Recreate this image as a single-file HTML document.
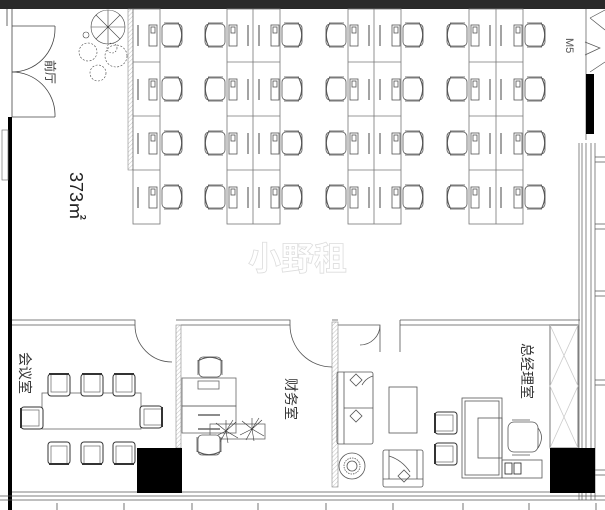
<!DOCTYPE html>
<html><head><meta charset="utf-8"><style>
html,body{margin:0;padding:0;background:#fff;}
svg{display:block;}
text{font-family:"Liberation Sans","Noto Sans CJK SC",sans-serif;}
</style></head><body>
<svg width="605" height="510" viewBox="0 0 605 510" xmlns="http://www.w3.org/2000/svg">
<defs>
<pattern id="h" width="3" height="3" patternUnits="userSpaceOnUse" patternTransform="rotate(45)"><line x1="0" y1="0" x2="0" y2="3" stroke="#999" stroke-width="0.6"/></pattern>
<!-- chair with back on right -->
<g id="cR" fill="none" stroke="#555" stroke-width="0.8">
<rect x="2" y="2" width="20" height="22" rx="4" fill="#fff"/>
<path d="M18 1 Q26 13 18 25"/>
<line x1="4" y1="1" x2="19" y2="1"/><line x1="4" y1="25" x2="19" y2="25"/>
<path d="M19 3 Q24 13 19 23"/>
</g>
<g id="cL"><use href="#cR" transform="translate(26,0) scale(-1,1)"/></g>
<g id="mon" fill="#fff" stroke="#555" stroke-width="0.8"><rect x="0" y="0" width="8" height="21"/><rect x="2" y="2" width="4" height="6"/></g>
<g id="mc" fill="#fff" stroke="#333" stroke-width="1"><rect x="1" y="2" width="22" height="22" rx="3"/><rect x="4" y="2" width="16" height="18" stroke="#666" stroke-width="0.7"/><line x1="2" y1="2" x2="22" y2="2" stroke-width="2"/></g>
</defs>
<rect width="605" height="510" fill="#fff"/>
<rect x="0" y="0" width="605" height="9" fill="#2a2a2a"/>

<!-- left wall / entrance -->
<rect x="8" y="117" width="4" height="393" fill="#000"/>
<rect x="2" y="130" width="6" height="50" fill="none" stroke="#777" stroke-width="0.7"/>
<g fill="none" stroke="#444" stroke-width="0.8">
<line x1="12" y1="9" x2="12" y2="117"/>
<line x1="7" y1="9" x2="7" y2="26"/>
<line x1="12" y1="26" x2="55" y2="26"/><line x1="12" y1="117" x2="55" y2="117"/>
<line x1="55" y1="26" x2="55" y2="29"/><line x1="55" y1="114" x2="55" y2="117"/>
<path d="M55 29 A43 43 0 0 1 12 72"/><path d="M55 114 A43 43 0 0 0 12 72"/>
</g>
<text x="0" y="0" font-size="12" fill="#333" transform="translate(46,60) rotate(90)">前厅</text>
<text x="0" y="0" font-size="18" fill="#222" transform="translate(70,172) rotate(90)">373㎡</text>

<!-- plants -->
<g fill="none" stroke="#444" stroke-width="0.6">
<circle cx="108" cy="27" r="17"/>
<path d="M108 27 L108 10 M108 27 L120 15 M108 27 L125 27 M108 27 L120 39 M108 27 L108 44 M108 27 L96 39 M108 27 L91 27 M108 27 L96 15"/>
<circle cx="86" cy="35" r="3"/>
<circle cx="88" cy="52" r="9" stroke-dasharray="2 1.5"/>
<circle cx="116" cy="56" r="11" stroke-dasharray="2 1.5"/>
<circle cx="98" cy="73" r="8" stroke-dasharray="2 1.5"/>
<circle cx="112" cy="48" r="5" stroke-dasharray="1.5 1.5"/>
</g>
<rect x="128" y="9" width="5" height="161" fill="url(#h)" stroke="#888" stroke-width="0.6"/>

<!-- desk grid -->
<g fill="none" stroke="#777" stroke-width="0.8">
<rect x="133" y="9" width="27" height="215"/>
<line x1="133" y1="62" x2="160" y2="62"/><line x1="133" y1="116" x2="160" y2="116"/><line x1="133" y1="170" x2="160" y2="170"/>
<rect x="227" y="9" width="53" height="215"/><line x1="253" y1="9" x2="253" y2="224"/>
<line x1="227" y1="62" x2="280" y2="62"/><line x1="227" y1="116" x2="280" y2="116"/><line x1="227" y1="170" x2="280" y2="170"/>
<rect x="348" y="9" width="53" height="215"/><line x1="374" y1="9" x2="374" y2="224"/>
<line x1="348" y1="62" x2="401" y2="62"/><line x1="348" y1="116" x2="401" y2="116"/><line x1="348" y1="170" x2="401" y2="170"/>
<rect x="469" y="9" width="54" height="215"/><line x1="496" y1="9" x2="496" y2="224"/>
<line x1="469" y1="62" x2="523" y2="62"/><line x1="469" y1="116" x2="523" y2="116"/><line x1="469" y1="170" x2="523" y2="170"/>
</g>
<g id="row">
<use href="#mon" x="149" y="25"/><line x1="138" y1="25" x2="138" y2="46" stroke="#666" stroke-width="1.2"/>
<use href="#cR" x="160" y="22"/>
<use href="#cL" x="201" y="22"/><use href="#mon" x="229" y="25"/><line x1="248" y1="25" x2="248" y2="46" stroke="#666" stroke-width="1.2"/>
<line x1="259" y1="25" x2="259" y2="46" stroke="#666" stroke-width="1.2"/><use href="#mon" x="271" y="25"/><use href="#cR" x="280" y="22"/>
<use href="#cL" x="322" y="22"/><use href="#mon" x="350" y="25"/><line x1="369" y1="25" x2="369" y2="46" stroke="#666" stroke-width="1.2"/>
<line x1="380" y1="25" x2="380" y2="46" stroke="#666" stroke-width="1.2"/><use href="#mon" x="392" y="25"/><use href="#cR" x="401" y="22"/>
<use href="#cL" x="443" y="22"/><use href="#mon" x="471" y="25"/><line x1="490" y1="25" x2="490" y2="46" stroke="#666" stroke-width="1.2"/>
<line x1="501" y1="25" x2="501" y2="46" stroke="#666" stroke-width="1.2"/><use href="#mon" x="514" y="25"/><use href="#cR" x="523" y="22"/>
</g>
<use href="#row" y="54"/><use href="#row" y="108"/><use href="#row" y="162"/>

<!-- right side -->
<g fill="none" stroke="#555" stroke-width="0.7">
<line x1="586" y1="9" x2="586" y2="140"/>
<path d="M590 18 L605 10 M590 18 L605 30 M585 42 L600 48 L585 55 M590 72 L605 62"/>
<line x1="579" y1="143" x2="579" y2="500"/><line x1="582" y1="143" x2="582" y2="500"/>
<line x1="586" y1="143" x2="586" y2="500"/><line x1="591" y1="143" x2="591" y2="500"/>
<line x1="595" y1="143" x2="595" y2="500"/>
<path d="M595 157 H605 M595 162 H605 M595 224 H605 M595 229 H605 M595 291 H605 M595 296 H605 M595 380 H605 M595 385 H605 M595 470 H605 M595 475 H605"/>
</g>
<rect x="586" y="74" width="8" height="60" fill="#000"/>
<text x="0" y="0" font-size="11" fill="#555" transform="translate(566,38) rotate(90)">M5</text>

<!-- watermark -->
<text x="248" y="270" font-size="33" font-weight="bold" fill="#fff" stroke="#ddd" stroke-width="0.8" font-family="Liberation Sans,Noto Sans CJK SC,sans-serif">小野租</text>

<!-- bottom rooms walls -->
<g fill="none" stroke="#555" stroke-width="0.8">
<path d="M12 320 H135 V325 H12"/>
<path d="M135 325 A37 37 0 0 0 172 362"/>
<path d="M176 320 H290 V325 H181"/>
<path d="M290 325 A42 42 0 0 0 332 367"/>
<path d="M332 320 H338 M338 325 H380 V352 M380 325 A20 20 0 0 1 360 345"/>
<path d="M400 320 H580 M400 325 H578 M400 320 V352"/>
<line x1="12" y1="492" x2="580" y2="492"/>
<line x1="0" y1="496" x2="605" y2="496"/><line x1="0" y1="500" x2="605" y2="500"/>
<path d="M57 503 V510 M124 503 V510 M192 503 V510 M258 503 V510 M326 503 V510 M393 503 V510 M463 503 V510 M529 503 V510 M596 503 V510"/>
<rect x="550" y="325" width="28" height="123"/>
<path d="M550 325 L578 386 L550 448 M578 325 L550 386 L578 448" stroke="#ccc"/>
</g>
<rect x="176" y="325" width="5" height="123" fill="url(#h)" stroke="#888" stroke-width="0.6"/>
<rect x="332" y="322" width="6" height="165" fill="url(#h)" stroke="#888" stroke-width="0.6"/>
<rect x="137" y="448" width="45" height="45" fill="#000"/>
<rect x="550" y="448" width="45" height="45" fill="#000"/>

<!-- meeting room -->
<text x="0" y="0" font-size="14" fill="#333" transform="translate(20,352) rotate(90)">会议室</text>
<rect x="42" y="393" width="99" height="36" fill="none" stroke="#666" stroke-width="0.8"/>
<use href="#mc" x="47" y="372"/><use href="#mc" x="80" y="372"/><use href="#mc" x="112" y="372"/>
<use href="#mc" transform="translate(47,466) scale(1,-1)"/><use href="#mc" transform="translate(80,466) scale(1,-1)"/><use href="#mc" transform="translate(112,466) scale(1,-1)"/>
<use href="#mc" transform="translate(19,430) rotate(-90)"/><use href="#mc" transform="translate(164,405) rotate(90)"/>

<!-- finance -->
<text x="0" y="0" font-size="14" fill="#333" transform="translate(286,378) rotate(90)">财务室</text>
<use href="#cR" transform="translate(197,379) rotate(-90)"/>
<g fill="none" stroke="#666" stroke-width="0.8">
<rect x="182" y="378" width="54" height="28"/><rect x="182" y="406" width="54" height="27"/>
<rect x="198" y="381" width="21" height="8"/>
<line x1="198" y1="415" x2="220" y2="415" stroke-width="1.4"/><line x1="198" y1="429" x2="220" y2="429" stroke-width="1.4"/>
<rect x="210" y="424" width="55" height="15"/>
<g stroke="#333" stroke-width="0.6">
<path d="M226 431 l-10 -8 M226 431 l10 -9 M226 431 l-12 6 M226 431 l12 7 M226 431 l0 -11 M226 431 l2 12 M226 431 l-6 11 M226 431 l7 -11"/>
<path d="M252 429 l-10 -8 M252 429 l10 -9 M252 429 l-12 6 M252 429 l12 7 M252 429 l0 -11 M252 429 l2 12 M252 429 l-6 11 M252 429 l7 -11"/>
</g>
</g>
<use href="#cR" transform="translate(222,433) rotate(90)"/>

<!-- GM room -->
<text x="0" y="0" font-size="14" fill="#333" transform="translate(522,343) rotate(90)">总经理室</text>
<g fill="none" stroke="#555" stroke-width="0.8">
<rect x="337" y="372" width="36" height="72" rx="2"/>
<line x1="344" y1="372" x2="344" y2="444"/><line x1="344" y1="408" x2="373" y2="408"/>
<path d="M350 380 l6 -6 l6 6 l-6 6 z M350 416 l6 -6 l6 6 l-6 6 z"/>
<path d="M362 385 Q366 378 373 376"/>
<rect x="389" y="387" width="28" height="46"/>
<circle cx="352" cy="466" r="13"/><circle cx="352" cy="466" r="8" stroke-dasharray="1.5 1"/><circle cx="352" cy="466" r="5"/>
<rect x="383" y="450" width="40" height="37" rx="2"/>
<line x1="383" y1="479" x2="423" y2="479"/><line x1="389" y1="450" x2="389" y2="479"/><line x1="417" y1="450" x2="417" y2="479"/>
<path d="M398 476 l6 -6 l6 6 l-6 6 z"/><path d="M389 456 Q402 460 410 472"/>
<rect x="462" y="398" width="40" height="80"/><rect x="465" y="401" width="34" height="74"/>
<rect x="478" y="418" width="24" height="40"/>
<rect x="502" y="460" width="40" height="18"/>
<rect x="505" y="463" width="7" height="11" stroke="#222"/><rect x="514" y="463" width="7" height="11" stroke="#222"/>
<rect x="508" y="422" width="30" height="30" rx="6"/>
<path d="M512 420 H530 M512 455 H530 M538 428 Q545 437 538 448"/>
</g>
<use href="#mc" transform="translate(433,435) rotate(-90)"/>
<use href="#mc" transform="translate(433,466) rotate(-90)"/>
</svg>
</body></html>
